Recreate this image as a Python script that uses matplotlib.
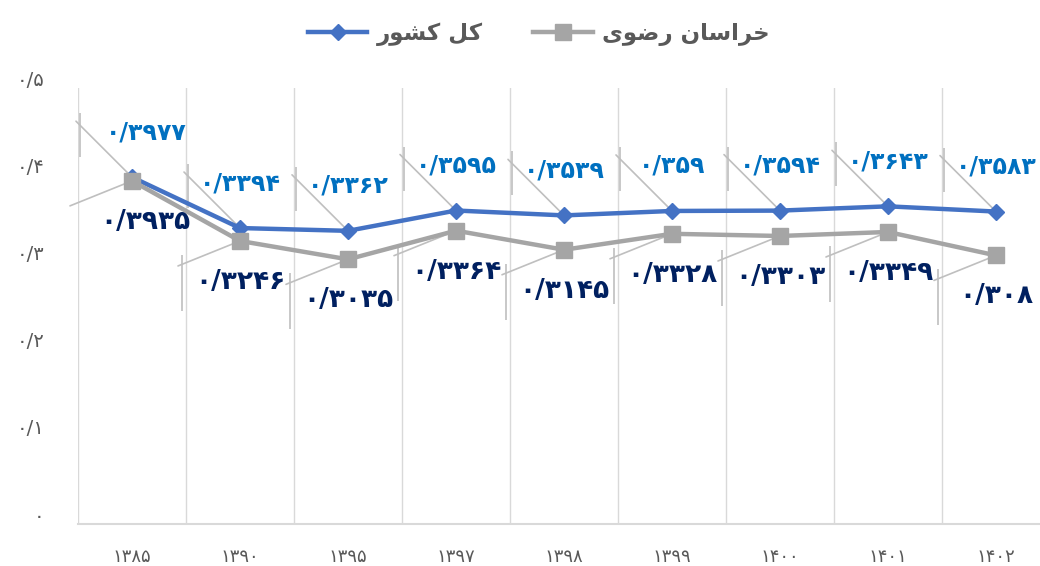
import matplotlib
matplotlib.use("Agg")
import matplotlib.pyplot as plt
from matplotlib.transforms import offset_copy, ScaledTranslation
import numpy as np

# =========================
# DATA
# =========================
years = ['۱۳۸۵', '۱۳۹۰', '۱۳۹۵', '۱۳۹۷', '۱۳۹۸', '۱۳۹۹', '۱۴۰۰', '۱۴۰۱', '۱۴۰۲']
kol_keshvar = [0.3977, 0.3394, 0.3362, 0.3595, 0.3539, 0.359, 0.3594, 0.3643, 0.3583]
khorasan = [0.3935, 0.3246, 0.3035, 0.3364, 0.3145, 0.3328, 0.3303, 0.3349, 0.308]
y_ticks = [0, 0.1, 0.2, 0.3, 0.4, 0.5]

# legend names, written in shaped (presentation) forms, visual order
name_kol = '\uFEAD\uFEEE\uFEB8\uFB90 \uFEDE\uFB90'                      # کل کشور
name_khr = '\uFBFC\uFEEE\uFEBF\uFEAD \uFEE5\uFE8E\uFEB3\uFE8D\uFEAE\uFEA7'  # خراسان رضوی

FA = str.maketrans('0123456789.', '۰۱۲۳۴۵۶۷۸۹/')


def fa_num(v):
    return f"{v:g}".translate(FA)


plt.rcParams['font.family'] = ['DejaVu Sans']

fig = plt.figure(figsize=(10.4, 5.66), dpi=100)
ax = fig.add_axes([78 / 1040, 42 / 566, 972 / 1040, 436 / 566])

x = np.arange(len(years))
BLUE = '#4472C4'
GRAY = '#A5A5A5'
LEAD = '#bfbfbf'

ax.plot(x, kol_keshvar, color=BLUE, lw=3.2, marker='D', ms=8, zorder=4,
        label=name_kol)
ax.plot(x, khorasan, color=GRAY, lw=3.2, marker='s', ms=11, zorder=5,
        label=name_khr)

# =========================
# DATA LABELS + LEADERS
# =========================
for i, v in enumerate(kol_keshvar):
    dx = 14 if i == 0 else 0
    ax.annotate('', xy=(i, v), xytext=(-56, 56), textcoords='offset pixels',
                arrowprops=dict(arrowstyle='-', color=LEAD, lw=1.2,
                                shrinkA=0, shrinkB=0), zorder=2)
    tr = offset_copy(ax.transData, fig=fig, x=-52, y=42, units='dots')
    ax.plot(i, v, marker='|', ms=32, mew=1.2, color=LEAD, transform=tr,
            zorder=2)
    ax.annotate(fa_num(v), xy=(i, v), xytext=(dx, 45),
                textcoords='offset pixels', ha='center', va='center',
                color='#0070C0', fontsize=17, fontweight='bold', zorder=6)

for i, v in enumerate(khorasan):
    dx = 13 if i == 0 else 0
    ax.annotate('', xy=(i, v), xytext=(-62, -25), textcoords='offset pixels',
                arrowprops=dict(arrowstyle='-', color=LEAD, lw=1.2,
                                shrinkA=0, shrinkB=0), zorder=2)
    tr = offset_copy(ax.transData, fig=fig, x=-58, y=-42, units='dots')
    ax.plot(i, v, marker='|', ms=40, mew=1.2, color=LEAD, transform=tr,
            zorder=2)
    ax.annotate(fa_num(v), xy=(i, v), xytext=(dx, -41),
                textcoords='offset pixels', ha='center', va='center',
                color='#002060', fontsize=19, fontweight='bold', zorder=6)

# =========================
# AXES
# =========================
ax.set_xlim(-0.5, len(years) - 0.5)
ax.set_ylim(0, 0.5)
ax.set_xticks(x)
ax.set_xticklabels(years, fontsize=13, color='#595959')
ax.set_xticks(np.arange(-0.5, len(years), 1), minor=True)
ax.set_yticks(y_ticks)
ax.set_yticklabels([fa_num(t) for t in y_ticks], fontsize=14, color='#595959')
ax.tick_params(axis='both', which='both', length=0)
ax.tick_params(axis='x', pad=17)
ax.tick_params(axis='y', pad=24)
# y labels sit a little above their levels in the original
shift = ScaledTranslation(0, 10 / 100, fig.dpi_scale_trans)
for lab in ax.get_yticklabels():
    lab.set_transform(lab.get_transform() + shift)
ax.grid(axis='x', which='minor', color='#d9d9d9', lw=1)
ax.grid(axis='y', visible=False)
for s in ['left', 'top', 'right']:
    ax.spines[s].set_visible(False)
ax.spines['bottom'].set_color('#d9d9d9')
ax.spines['bottom'].set_linewidth(1.5)

fig.legend(loc='center', bbox_to_anchor=(0.518, 0.94), ncol=2, frameon=False,
           handlelength=2.6, columnspacing=2.2, handletextpad=0.4,
           prop={'size': 16.5, 'weight': 'bold'}, labelcolor='#595959')

fig.savefig('out.png', dpi=100)
